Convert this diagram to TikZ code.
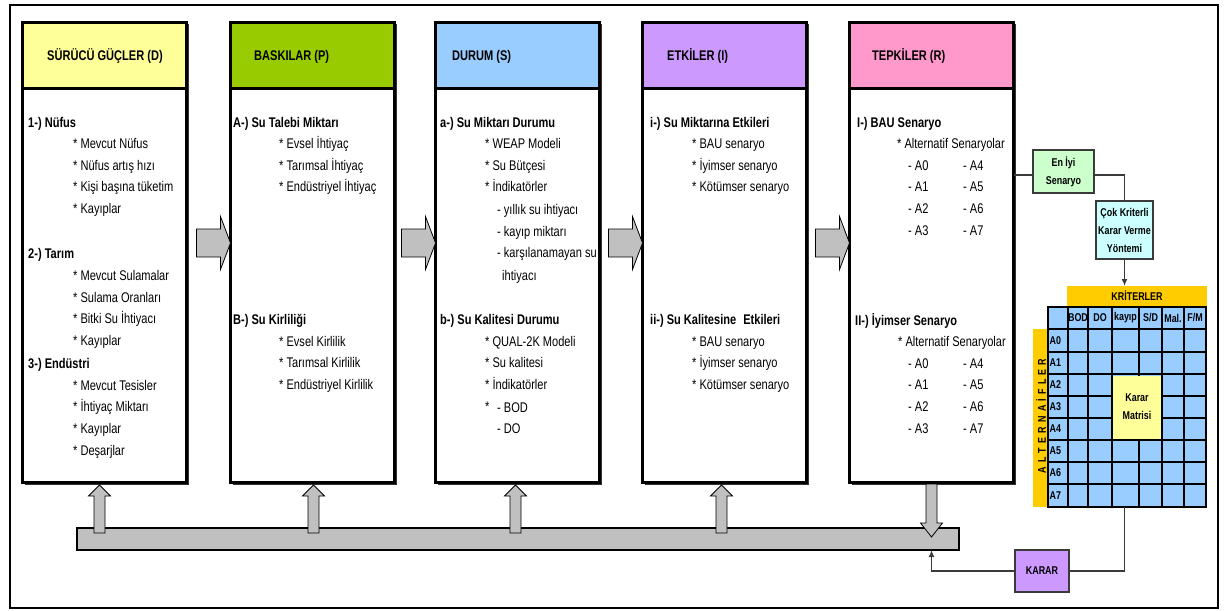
\documentclass[tikz,border=0pt]{standalone}
\usepackage{fontspec}
\setmainfont{Liberation Sans}[FakeStretch=0.79]
\usetikzlibrary{calc,shadows,arrows.meta}

\definecolor{hdD}{HTML}{FFFF99}
\definecolor{hdP}{HTML}{99CC00}
\definecolor{hdS}{HTML}{99CCFF}
\definecolor{hdI}{HTML}{CC99FF}
\definecolor{hdR}{HTML}{FF99CC}
\definecolor{barGray}{HTML}{C0C0C0}
\definecolor{bandOrange}{HTML}{FFCC00}
\definecolor{cellBlue}{HTML}{99CCFF}
\definecolor{boxGreen}{HTML}{CCFFCC}
\definecolor{boxCyan}{HTML}{CCFFFF}
\definecolor{wireGray}{HTML}{3A3A3A}

% one node per text line, stacked with a fixed line pitch
\newcommand{\linesat}[4]{%
  \foreach \t [count=\i from 0] in {#4}{%
    \node[bodytxt] (#1\i) at (#2,{#3+5+21.7*\i}) {\t};}}

\tikzset{
  colhead/.style={draw, line width=3pt, inner sep=0pt, outer sep=0pt,
    anchor=north west, minimum width=164pt, minimum height=66pt,
    drop shadow={shadow xshift=2pt, shadow yshift=-2pt, fill=black!80, opacity=1}},
  colbody/.style={colhead, fill=white, minimum height=394pt},
  titletxt/.style={anchor=base west, inner sep=0pt, font=\fontsize{14}{16}\selectfont\bfseries},
  bodytxt/.style={anchor=base west, inner sep=0pt, font=\fontsize{14}{16}\selectfont},
  blockarrow/.style={draw=black, line width=0.8pt, fill=barGray, line join=miter},
  smallbox/.style={draw=wireGray, line width=1.2pt, inner sep=0pt, outer sep=0pt, align=center,
    font=\fontsize{11.3}{18}\selectfont\bfseries},
  lbltxt/.style={inner sep=0pt, font=\fontsize{11.3}{13}\selectfont\bfseries},
  gridline/.style={draw=black, line width=2pt},
  wire/.style={draw=wireGray, line width=1.5pt},
  wirearrow/.style={wire, -{Latex[length=7pt,width=6pt]}},
}

\begin{document}
\begin{tikzpicture}[x=1pt,y=-1pt]
\useasboundingbox (0,0) rectangle (1225,610);

% outer frame
\node[draw, line width=2pt, inner sep=0pt, outer sep=0pt, anchor=north west,
  minimum width=1208pt, minimum height=603pt] (frame) at (10,5) {};

% bottom feedback bar
\node[draw, line width=2pt, fill=barGray, inner sep=0pt, outer sep=0pt, anchor=north west,
  minimum width=882pt, minimum height=22pt] (bar) at (77,528) {};

% the five DPSIR columns
\foreach \n/\x/\c/\tx/\t in {D/22.5/hdD/47/SÜRÜCÜ GÜÇLER (D), P/230.5/hdP/254/BASKILAR (P),
    S/435.5/hdS/452/DURUM (S), I/642.5/hdI/667/ETKİLER (I), R/849.5/hdR/872/TEPKİLER (R)}{
  \node[colhead, fill=\c] (\n-head) at (\x,22.5) {};
  \node[colbody] (\n-body) at (\n-head.south west) {};
  \node[titletxt] (\n-title) at (\tx,60) {\t};
}

% column D
\linesat{dh1-}{28}{122}{\textbf{1-) Nüfus}}
\linesat{di1-}{73}{143.5}{* Mevcut Nüfus, * Nüfus artış hızı, * Kişi başına tüketim, * Kayıplar}
\linesat{dh2-}{28}{253}{\textbf{2-) Tarım}}
\linesat{di2-}{73}{275.5}{* Mevcut Sulamalar, * Sulama Oranları, * Bitki Su İhtiyacı, * Kayıplar}
\linesat{dh3-}{28}{363}{\textbf{3-) Endüstri}}
\linesat{di3-}{73}{385}{* Mevcut Tesisler, * İhtiyaç Miktarı, * Kayıplar, * Deşarjlar}

% column P
\linesat{ph1-}{233}{122}{\textbf{A-) Su Talebi Miktarı}}
\linesat{pi1-}{279}{143.5}{* Evsel İhtiyaç, * Tarımsal İhtiyaç, * Endüstriyel İhtiyaç}
\linesat{ph2-}{233}{319}{\textbf{B-) Su Kirliliği}}
\linesat{pi2-}{279}{341}{* Evsel Kirlilik, * Tarımsal Kirlilik, * Endüstriyel Kirlilik}

% column S
\linesat{sh1-}{440}{122}{\textbf{a-) Su Miktarı Durumu}}
\linesat{si1-}{485}{143.5}{* WEAP Modeli, * Su Bütçesi, * İndikatörler}
\linesat{ss1-}{497}{209.5}{- yıllık su ihtiyacı, - kayıp miktarı, - karşılanamayan su}
\linesat{sc1-}{502}{275}{ihtiyacı}
\linesat{sh2-}{440}{319}{\textbf{b-) Su Kalitesi Durumu}}
\linesat{si2-}{485}{341}{* QUAL-2K Modeli, * Su kalitesi, * İndikatörler, *}
\linesat{ss2-}{497}{407}{- BOD, - DO}

% column I
\linesat{ih1-}{650}{122}{\textbf{i-) Su Miktarına Etkileri}}
\linesat{ii1-}{692}{143.5}{* BAU senaryo, * İyimser senaryo, * Kötümser senaryo}
\linesat{ih2-}{650}{319}{\textbf{ii-) Su Kalitesine\hspace{4pt} Etkileri}}
\linesat{ii2-}{692}{341}{* BAU senaryo, * İyimser senaryo, * Kötümser senaryo}

% column R
\linesat{rh1-}{857}{122}{\textbf{I-) BAU Senaryo}}
\linesat{ri1-}{897}{143.5}{* Alternatif Senaryolar}
\linesat{ra1-}{908}{165}{- A0, - A1, - A2, - A3}
\linesat{rb1-}{963}{165}{- A4, - A5, - A6, - A7}
\linesat{rh2-}{855}{320}{\textbf{II-) İyimser Senaryo}}
\linesat{ri2-}{898}{341.5}{* Alternatif Senaryolar}
\linesat{ra2-}{908}{363}{- A0, - A1, - A2, - A3}
\linesat{rb2-}{963}{363}{- A4, - A5, - A6, - A7}

% block arrows between the columns
\coordinate (arrowY) at (0,243);
\foreach \n in {P,S,I,R}{
  \draw[blockarrow, shift={(\n-body.west |- arrowY)}]
    (0,0) -- (-10,-26.5) -- (-10,-14) -- (-34,-14) -- (-34,14) -- (-10,14) -- (-10,26.5) -- cycle;
}

% feedback arrows from the bar up into D, P, S, I
\foreach \n/\dx in {D/-5, P/1, S/-2, I/-3}{
  \draw[blockarrow, shift={($(\n-body.south)+(\dx,2.5)$)}]
    (0,0) -- (11,11) -- (5.5,11) -- (5.5,48) -- (-5.5,48) -- (-5.5,11) -- (-11,11) -- cycle;
}
% arrow from R down into the bar
\draw[blockarrow, shift={($(R-body.south)+(0,54.5)$)}]
  (0,0) -- (-11,-14) -- (-5.5,-14) -- (-5.5,-53) -- (5.5,-53) -- (5.5,-14) -- (11,-14) -- cycle;

% decision chain on the right
\node[smallbox, fill=boxGreen, minimum width=61pt, minimum height=43pt] (best) at (1063.5,171.5) {En İyi\\Senaryo};
\node[smallbox, fill=boxCyan, minimum width=57pt, minimum height=58pt] (mcdm) at (1124.5,230) {Çok Kriterli\\Karar Verme\\Yöntemi};
\node[smallbox, fill=hdI, minimum width=54pt, minimum height=42pt] (karar) at (1042,571) {KARAR};

% decision matrix
\node[fill=bandOrange, inner sep=0pt, outer sep=0pt, anchor=north west,
  minimum width=140pt, minimum height=20pt, font=\fontsize{11.3}{13}\selectfont\bfseries] (krit) at (1067,286) {KRİTERLER};
\node[fill=bandOrange, inner sep=0pt, outer sep=0pt, anchor=north west,
  minimum width=15pt, minimum height=178pt] (alt) at (1033,329) {};
\node[lbltxt, rotate=90] (alt-txt) at (1041,416)
  {A\hspace{4.2pt}L\hspace{4.2pt}T\hspace{4.2pt}E\hspace{4.2pt}R\hspace{4.2pt}N\hspace{4.2pt}A\hspace{4.2pt}İ\hspace{4.2pt}F\hspace{4.2pt}L\hspace{4.2pt}E\hspace{4.2pt}R};
\node[fill=cellBlue, inner sep=0pt, outer sep=0pt, anchor=north west,
  minimum width=158pt, minimum height=200pt] (grid) at (1048,307) {};
\foreach \x in {1068,1088,1112,1139,1162,1184} \draw[gridline] (\x,307) -- (\x,507);
\foreach \y in {329,352,374,396,418,440,462,484} \draw[gridline] (1048,\y) -- (1206,\y);
\node[fill=hdD, inner sep=0pt, outer sep=0pt, anchor=north west, align=center,
  minimum width=48pt, minimum height=63pt, font=\fontsize{11.3}{18}\selectfont\bfseries] (kmat) at (1113,375.5) {Karar\\Matrisi};
\draw[gridline] (grid.north west) rectangle (grid.south east);
\foreach \x/\t [count=\i] in {1078/BOD, 1100/DO, 1125.5/kayıp, 1150.5/{S/D}, 1173/Mal., 1195/{F/M}}
  \node[lbltxt] (crit-\i) at (\x,318) {\t};
\foreach \y/\t in {340.5/A0, 363/A1, 385/A2, 407/A3, 429/A4, 451/A5, 473/A6, 495.5/A7}
  \node[lbltxt, anchor=west] (alt-\t) at (1049.5,\y) {\t};

% connectors
\coordinate (bestin) at ([yshift=-3.5pt]best.west);
\coordinate (bestout) at ([yshift=-3.5pt]best.east);
\draw[wire] (bestin -| R-body.east) -- (bestin);
\draw[wire] (bestout) -| (mcdm.north);
\draw[wirearrow] (mcdm.south) -- (mcdm.south |- krit.north);
\draw[wire] (grid.south -| mcdm.south) |- (karar.east);
\draw[wirearrow] (karar.west) -| (bar.south -| R-body.south);

\end{tikzpicture}
\end{document}
